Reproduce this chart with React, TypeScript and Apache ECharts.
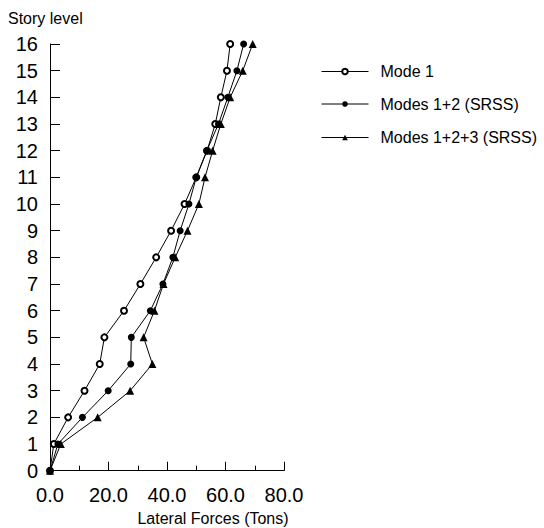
import React, { useEffect, useRef } from "react";
import * as echarts from "echarts";

const storyLevels = [0, 1, 2, 3, 4, 5, 6, 7, 8, 9, 10, 11, 12, 13, 14, 15, 16];
const mode1 = [0, 1.3, 6.2, 11.8, 17.0, 18.6, 25.3, 30.9, 36.3, 41.4, 46.0, 50.0, 53.7, 56.5, 58.4, 60.5, 61.6];
const modes12 = [0, 2.7, 11.1, 19.9, 27.6, 27.8, 34.3, 38.6, 42.0, 44.5, 47.5, 50.0, 53.6, 57.6, 60.8, 63.9, 66.2];
const modes123 = [0, 3.7, 16.3, 27.4, 35.0, 32.0, 35.7, 38.8, 42.8, 47.0, 50.9, 53.0, 55.6, 58.4, 61.6, 65.9, 69.3];
const seriesNames = ["Mode 1", "Modes 1+2 (SRSS)", "Modes 1+2+3 (SRSS)"];
const xTitle = "Lateral Forces (Tons)";
const yTitle = "Story level";

const FONT = "'Liberation Sans', Arial, sans-serif";

export default function App() {
  const ref = useRef<HTMLDivElement>(null);
  useEffect(() => {
    if (!ref.current) return;
    const chart = echarts.init(ref.current, undefined, { renderer: "svg" });
    const mk = (vals: number[]) => vals.map((v, i) => [v, storyLevels[i]]);
    const legendTops = [63.5, 96, 129.5];
    chart.setOption({
      animation: false,
      backgroundColor: "#fff",
      textStyle: { fontFamily: FONT, color: "#000" },
      grid: { left: 50, right: 260, top: 44, bottom: 57.3, containLabel: false },
      xAxis: {
        type: "value",
        min: 0,
        max: 80,
        interval: 20,
        axisLine: { show: true, onZero: false, lineStyle: { color: "#000", width: 1 } },
        axisTick: { show: true, inside: true, length: 9, lineStyle: { color: "#000" } },
        minorTick: { show: true, splitNumber: 2, length: 5, lineStyle: { color: "#000" } },
        splitLine: { show: false },
        axisLabel: {
          color: "#000",
          fontSize: 20,
          fontFamily: FONT,
          margin: 14,
          formatter: (v: number) => v.toFixed(1),
        },
      },
      yAxis: {
        type: "value",
        min: 0,
        max: 16,
        interval: 1,
        axisLine: { show: true, onZero: false, lineStyle: { color: "#000", width: 1 } },
        axisTick: { show: true, inside: true, length: 10, lineStyle: { color: "#000" } },
        splitLine: { show: false },
        axisLabel: { color: "#000", fontSize: 20, fontFamily: FONT, margin: 12 },
      },
      legend: seriesNames.map((n, i) => ({
        data: [n],
        orient: "vertical",
        left: 321,
        top: legendTops[i],
        itemWidth: 47,
        itemHeight: 7,
        padding: 0,
        lineStyle: { width: 1, color: "#000" },
        itemStyle: { borderWidth: 1 },
        textStyle: { fontSize: 16, fontFamily: FONT, color: "#000", lineHeight: 16, padding: [0, 0, 0, 7] },
        selectedMode: false,
      })),
      graphic: [
        {
          type: "text",
          left: 8,
          top: 10,
          style: { text: yTitle, font: `16px ${FONT}`, fill: "#000" },
        },
        {
          type: "text",
          x: 213,
          y: 518,
          style: { text: xTitle, font: `16px ${FONT}`, fill: "#000", align: "center", verticalAlign: "middle" },
        },
      ],
      series: [
        {
          name: seriesNames[0],
          type: "line",
          data: mk(mode1),
          symbol: "emptyCircle",
          symbolSize: 6,
          lineStyle: { color: "#000", width: 1 },
          itemStyle: { color: "#000", borderWidth: 1 },
        },
        {
          name: seriesNames[1],
          type: "line",
          data: mk(modes12),
          symbol: "circle",
          symbolSize: 7,
          lineStyle: { color: "#000", width: 1 },
          itemStyle: { color: "#000" },
        },
        {
          name: seriesNames[2],
          type: "line",
          data: mk(modes123),
          symbol: "triangle",
          symbolSize: 8,
          lineStyle: { color: "#000", width: 1 },
          itemStyle: { color: "#000" },
        },
      ],
    });
    return () => chart.dispose();
  }, []);
  return <div ref={ref} style={{ width: 544, height: 528, position: "absolute", left: 0, top: 0 }} />;
}
